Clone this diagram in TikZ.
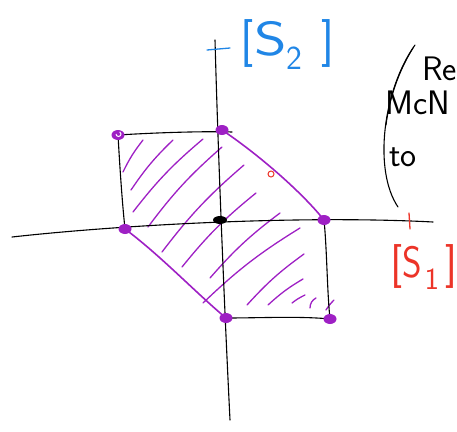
\documentclass[tikz,border=0pt]{standalone}
\usetikzlibrary{shapes.geometric}
\definecolor{penpurple}{RGB}{158,32,196}
\definecolor{penblue}{RGB}{32,134,230}
\definecolor{penred}{RGB}{236,52,40}
\begin{document}
\begin{tikzpicture}[x=1pt,y=-1pt,
  ink/.style={line width=1.1pt, black, line cap=round, line join=round},
  pen/.style={line width=1.6pt, penpurple, line cap=round, line join=round},
  hatch/.style={line width=1.3pt, penpurple, line cap=round},
  vdot/.style={ellipse, fill=penpurple, inner sep=0pt, minimum width=13pt, minimum height=10pt},
  hand/.style={font=\sffamily\fontsize{34}{34}\selectfont, inner sep=0pt, anchor=base west,
               text height=24pt, text depth=1pt},
]
\useasboundingbox (0,0) rectangle (457,431);
\clip (0,0) rectangle (457,431);
% coordinates of the corners
\coordinate (TL) at (118,135);
\coordinate (TM) at (222,130);
\coordinate (R)  at (324,220);
\coordinate (L)  at (125,229);
\coordinate (BM) at (226,318);
\coordinate (BR) at (330,319);
\coordinate (O)  at (220,220);
\coordinate (xl) at (12,237);
\coordinate (xr) at (433,222);
\coordinate (yt) at (215,40);
\coordinate (yb) at (230,420);
\coordinate (tE) at (232,132);
% hatching
\draw[hatch] (123,172) to[bend left=6] (143,140);
\draw[hatch] (131,190) to[bend left=6] (173,140);
\draw[hatch] (133,212) to[bend left=6] (203,139);
\draw[hatch] (148,227) to[bend left=6] (222,147);
\draw[hatch] (162,252) to[bend left=6] (244,165);
\draw[hatch] (182,267) to[bend left=6] (256,193);
\draw[hatch] (210,278) to[bend left=6] (280,213);
\draw[hatch] (203,303) to[bend left=6] (300,228);
\draw[hatch] (247,305) to[bend left=6] (304,254);
\draw[hatch] (268,305) to[bend left=6] (303,279);
\draw[hatch] (292,303) to[bend left=6] (305,295);
\draw[hatch] (310,308) to[bend left=30] (316,298);
\draw[hatch] (326,310) to[bend left=6] (334,300);
% axes
\draw[ink] (xl) .. controls (120,225) and (300,215) .. (xr);
\draw[ink] (yt) .. controls (218,150) and (224,300) .. (yb);
% ticks
\draw[line width=1.3pt, penblue, line cap=round] (207,50) -- (230,48);
\draw[line width=1.3pt, penred, line cap=round] (409,213) -- (410,229);
% black square edges
\draw[ink] (TL) .. controls (150,133) and (200,131) .. (tE);
\draw[ink] (TL) .. controls (120,170) and (122,200) .. (L);
\draw[ink] (R) .. controls (327,250) and (327,290) .. (BR);
\draw[ink] (BM) .. controls (260,318) and (300,316) .. (BR);
% purple hexagon edges
\draw[pen] (TM) .. controls (255,152) and (300,190) .. (R);
\draw[pen] (L) .. controls (160,255) and (195,292) .. (BM);
% dots
\foreach \p in {TL,TM,R,L,BM,BR}{\node[vdot] (d\p) at (\p) {};}
\node[ellipse, fill=black, inner sep=0pt, minimum width=14pt, minimum height=8pt] (dO) at (O) {};
\draw[line width=1pt, white] (TL) ++(-2,-1) arc (180:-60:2.5);
\draw[line width=1pt, penred] (271,174) circle (3);
% labels
\node[hand, text=penblue, font=\sffamily\fontsize{48}{48}\selectfont, text height=34pt, text depth=12pt] (s2) at (240,55)
  {[\hspace{1pt}\scalebox{1.3}[1]{S}\textsubscript{2}\hspace{18pt}]};
\node[hand, text=penred, font=\sffamily\fontsize{44}{44}\selectfont, text height=31pt, text depth=11pt] (s1) at (390,277)
  {[\scalebox{0.85}[1]{S}\hspace{3pt}\textsubscript{1}\hspace{6pt}]};
\node[hand] (re) at (422,80) {Re};
\node[hand] (mc) at (385,114) {McN};
\node[hand] (to) at (389,166) {to};
\draw[ink] (415,45) .. controls (383,90) and (373,170) .. (398,207);
\draw[ink] (413,48) .. controls (398,72) and (389,100) .. (386,125);
\end{tikzpicture}
\end{document}
